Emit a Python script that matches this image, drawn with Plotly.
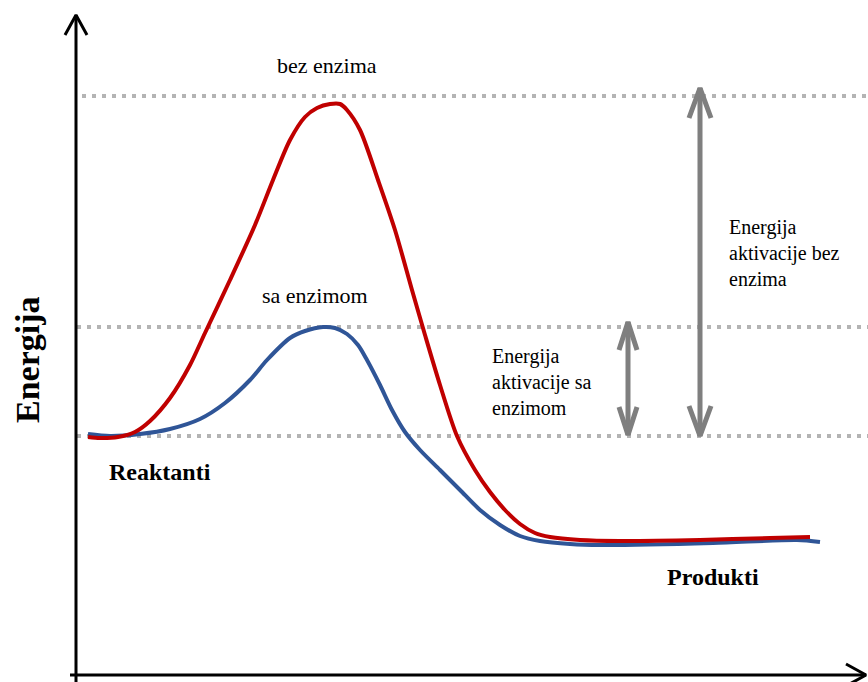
import plotly.graph_objects as go

# Reaction progress (x) and energy (y) — chart units
red_x = [88, 100, 118, 135, 150, 170, 190, 205, 230, 255, 273, 290, 305, 317, 330, 340, 347, 360, 378, 395, 412, 425, 440, 457, 475, 490, 505, 520, 535, 550, 580, 620, 700, 770, 810]
red_y = [245, 244, 245, 250, 261, 284, 317, 349, 402, 457, 502, 542, 565, 574, 578, 578, 572, 552, 502, 452, 392, 347, 297, 246, 212, 190, 172, 158, 149, 145, 142, 141, 142, 144, 145]

blue_x = [88, 110, 140, 170, 200, 225, 250, 267, 290, 305, 323, 335, 347, 358, 367, 380, 392, 405, 420, 440, 460, 480, 500, 520, 540, 570, 600, 713, 797, 820]
blue_y = [248, 246, 248, 253, 263, 279, 302, 322, 344, 351, 355, 354, 348, 337, 322, 297, 272, 250, 232, 212, 192, 172, 157, 146, 141, 138, 137, 139, 142, 140]

# Reference energy levels (dotted lines)
level_names = ["bez enzima", "sa enzimom", "reaktanti"]
level_values = [586, 355, 246]
level_start = [82, 77, 77]

# Activation energy arrows: (x position, top level, bottom level)
arrow_x = [700, 628]
arrow_top = [594, 360]
arrow_bottom = [246, 247]

X_MAX, Y_MAX = 868, 682
AXIS_X, AXIS_Y = 76, 7

RED = "#c00000"
BLUE = "#2f5597"
GRAY = "#7f7f7f"
DOT = "#b4b4b4"
SERIF = "Liberation Serif"

fig = go.Figure()

# dotted levels
for v, s in zip(level_values, level_start):
    fig.add_trace(go.Scatter(x=[s, X_MAX], y=[v, v], mode="lines",
                             line=dict(color=DOT, width=4, dash="4px,6px"),
                             hoverinfo="skip", showlegend=False))

# curves
fig.add_trace(go.Scatter(x=blue_x, y=blue_y, mode="lines", name="sa enzimom",
                         line=dict(color=BLUE, width=4, shape="spline", smoothing=0.8),
                         showlegend=False))
fig.add_trace(go.Scatter(x=red_x, y=red_y, mode="lines", name="bez enzima",
                         line=dict(color=RED, width=4, shape="spline", smoothing=0.8),
                         showlegend=False))

# double arrows
heads = [(11, 30), (9, 28)]
for ax, top, bot, (hw, hl) in zip(arrow_x, arrow_top, arrow_bottom, heads):
    fig.add_trace(go.Scatter(x=[ax, ax], y=[top, bot], mode="lines",
                             line=dict(color=GRAY, width=5), hoverinfo="skip", showlegend=False))
    fig.add_trace(go.Scatter(x=[ax - hw, ax, ax + hw], y=[top - hl, top, top - hl], mode="lines",
                             line=dict(color=GRAY, width=5), hoverinfo="skip", showlegend=False))
    fig.add_trace(go.Scatter(x=[ax - hw, ax, ax + hw], y=[bot + hl, bot, bot + hl], mode="lines",
                             line=dict(color=GRAY, width=5), hoverinfo="skip", showlegend=False))

# axes with arrowheads
fig.add_trace(go.Scatter(x=[AXIS_X, AXIS_X], y=[-5, 667], mode="lines",
                         line=dict(color="black", width=3), hoverinfo="skip", showlegend=False))
fig.add_trace(go.Scatter(x=[AXIS_X - 11, AXIS_X, AXIS_X + 11], y=[647, 667, 647], mode="lines",
                         line=dict(color="black", width=3), hoverinfo="skip", showlegend=False))
fig.add_trace(go.Scatter(x=[70, 866], y=[AXIS_Y, AXIS_Y], mode="lines",
                         line=dict(color="black", width=3), hoverinfo="skip", showlegend=False))
fig.add_trace(go.Scatter(x=[846, 866, 846], y=[AXIS_Y + 11, AXIS_Y, AXIS_Y - 11], mode="lines",
                         line=dict(color="black", width=3), hoverinfo="skip", showlegend=False))

ann = [
    dict(x=327, y=617, text="bez enzima", font=dict(size=22), xanchor="center"),
    dict(x=315, y=387, text="sa enzimom", font=dict(size=22), xanchor="center"),
    dict(x=727, y=429, text="Energija<br>aktivacije bez<br>enzima", font=dict(size=20), xanchor="left", align="left"),
    dict(x=490, y=300, text="Energija<br>aktivacije sa<br>enzimom", font=dict(size=20), xanchor="left", align="left"),
    dict(x=160, y=210, text="<b>Reaktanti</b>", font=dict(size=24), xanchor="center"),
    dict(x=713, y=105, text="<b>Produkti</b>", font=dict(size=24), xanchor="center"),
    dict(x=27, y=322, text="<b>Energija</b>", font=dict(size=34), textangle=-90, xanchor="center"),
]
for a in ann:
    a.setdefault("yanchor", "middle")
    a["showarrow"] = False
    a["xref"] = "x"
    a["yref"] = "y"
    a["font"] = dict(family=SERIF, color="black", **a["font"])
    fig.add_annotation(**a)

fig.update_layout(
    width=868, height=682,
    margin=dict(l=0, r=0, t=0, b=0),
    paper_bgcolor="white", plot_bgcolor="white",
    xaxis=dict(range=[0, X_MAX], visible=False, fixedrange=True),
    yaxis=dict(range=[0, Y_MAX], visible=False, fixedrange=True),
    showlegend=False,
    font=dict(family=SERIF),
)

fig.write_html("out.html", config={"displayModeBar": False},
               post_script="document.body.style.margin='0';document.body.style.overflow='hidden';")
